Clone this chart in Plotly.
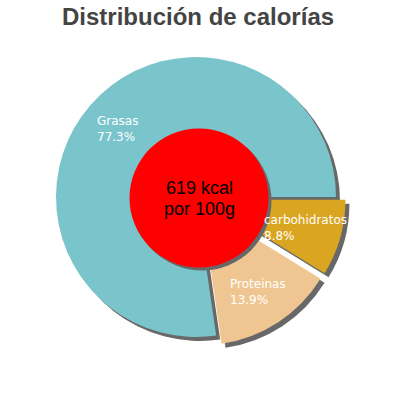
import numpy as np
import plotly.graph_objects as go

# ---- data ----
title_text = "Distribución de calorías"
labels = ["Grasas", "Proteinas", "carbohidratos"]
percents = [77.3, 13.9, 8.8]
center_lines = ["619 kcal", "por 100g"]

# ---- style ----
colors = ["#7ac4cc", "#efc691", "#daa520"]
pulls = [0.0, 0.07, 0.07]
W = H = 400
CX, CY, R = 196, 197, 140
SHADOW_DX, SHADOW_DY = 4, 4
IN_CX, IN_CY, IN_R = 199, 198, 69.5
LABEL_FRAC = 0.74

total = sum(percents)
# first slice starts at 3 o'clock and runs counterclockwise
# (plotly: with counterclockwise direction, rotation marks the clockwise edge of the first slice)
rotation = 90 - 360 * percents[0] / total + 360


def px(x):
    return x / W


def py(y):
    return 1 - y / H


def dom(cx, cy, half):
    return dict(x=[px(cx - half), px(cx + half)], y=[py(cy + half), py(cy - half)])


half = R * (1 + max(pulls))

fig = go.Figure()
# shadow of pie
fig.add_trace(go.Pie(values=percents, labels=labels, sort=False, direction="counterclockwise",
                     rotation=rotation, pull=pulls,
                     marker=dict(colors=["#686868"] * len(percents), line=dict(width=0)),
                     textinfo="none", hoverinfo="skip", showlegend=False,
                     domain=dom(CX + SHADOW_DX, CY + SHADOW_DY, half)))
# pie
fig.add_trace(go.Pie(values=percents, labels=labels, sort=False, direction="counterclockwise",
                     rotation=rotation, pull=pulls, marker=dict(colors=colors, line=dict(width=0)),
                     textinfo="none", hoverinfo="skip", showlegend=False,
                     domain=dom(CX, CY, half)))
# inner circle shadow + red circle
fig.add_trace(go.Pie(values=[1], labels=["s"], sort=False, marker=dict(colors=["#686868"], line=dict(width=0)),
                     textinfo="none", hoverinfo="skip", showlegend=False,
                     domain=dom(IN_CX + 3, IN_CY + 3, IN_R)))
fig.add_trace(go.Pie(values=[1], labels=["kcal"], sort=False, marker=dict(colors=["#ff0000"], line=dict(width=0)),
                     textinfo="none", hoverinfo="skip", showlegend=False,
                     domain=dom(IN_CX, IN_CY, IN_R)))

annotations = []
cum = 0.0
for lab, p, pl in zip(labels, percents, pulls):
    mid = np.deg2rad(360 * (cum + p / 2) / total)
    cum += p
    d = (pl + LABEL_FRAC) * R
    x = CX + d * np.cos(mid)
    y = CY - d * np.sin(mid)
    annotations.append(dict(x=px(x), y=py(y), xref="paper", yref="paper", showarrow=False,
                            text=f"{lab}<br>{p:.1f}%", align="left", xanchor="center", yanchor="middle",
                            font=dict(family="DejaVu Sans", size=12, color="white")))

annotations.append(dict(x=px(IN_CX), y=py(187.5), xref="paper", yref="paper", showarrow=False,
                        text=center_lines[0], xanchor="center", yanchor="middle",
                        font=dict(family="Liberation Sans", size=18, color="black")))
annotations.append(dict(x=px(IN_CX), y=py(208.5), xref="paper", yref="paper", showarrow=False,
                        text=center_lines[1], xanchor="center", yanchor="middle",
                        font=dict(family="Liberation Sans", size=18, color="black")))
annotations.append(dict(x=px(198), y=py(17), xref="paper", yref="paper", showarrow=False,
                        text=f"<b>{title_text}</b>", xanchor="center", yanchor="middle",
                        font=dict(family="Liberation Sans", size=24, color="#444444")))

fig.update_layout(width=W, height=H, margin=dict(l=0, r=0, t=0, b=0), autosize=False,
                  paper_bgcolor="white", plot_bgcolor="white", annotations=annotations)

fig.write_html("out.html", config={"displayModeBar": False},
               post_script="document.body.style.margin='0';")
